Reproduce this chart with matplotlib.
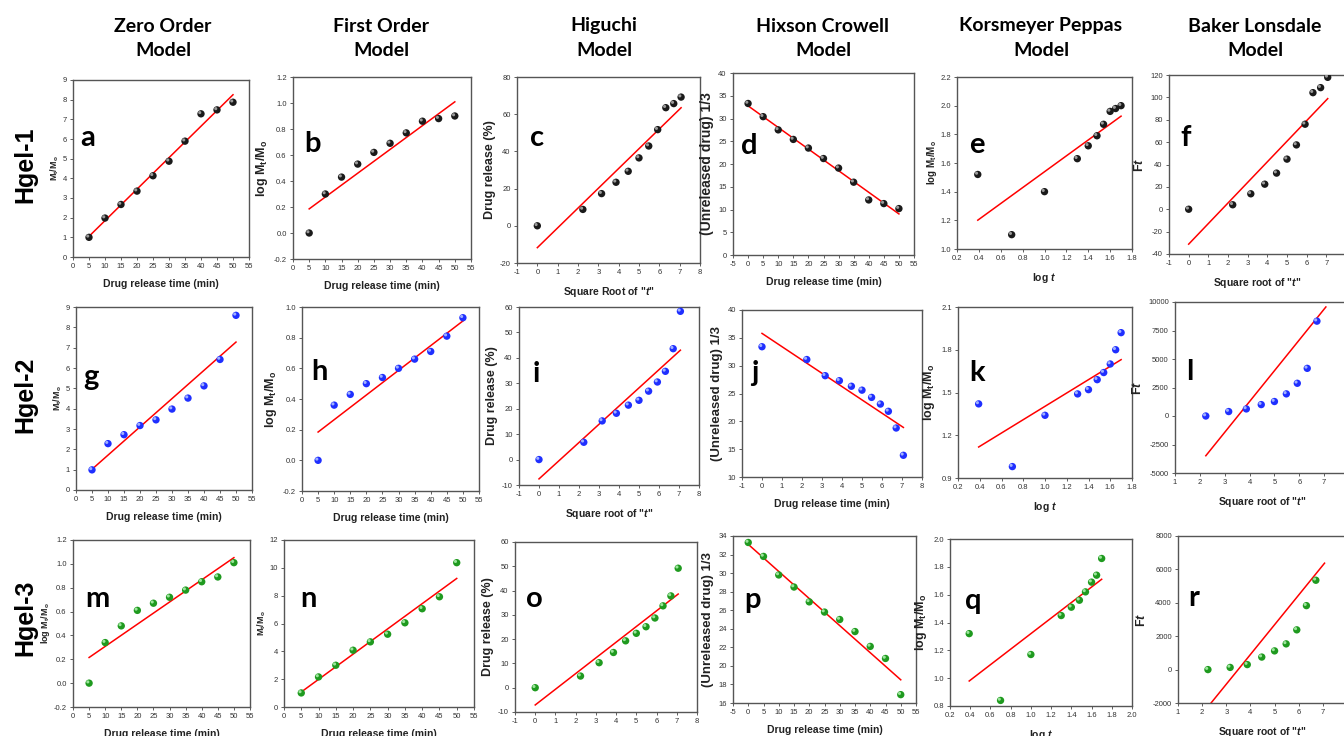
"""Release kinetics model fits for three hydrogels (Hgel-1..3)."""

import matplotlib.pyplot as plt
from matplotlib.ticker import FormatStrFormatter, MultipleLocator
from matplotlib.transforms import offset_copy

W, H = 1344, 736
LABEL_FONT = "Liberation Sans"

# ---- data ----------------------------------------------------------------
time_min = [5, 10, 15, 20, 25, 30, 35, 40, 45, 50]
time_min0 = [0, 5, 10, 15, 20, 25, 30, 35, 40, 45, 50]
sqrt_t = [0, 2.24, 3.16, 3.87, 4.47, 5.0, 5.48, 5.92, 6.32, 6.71, 7.07]
sqrt_t_bl = [2.24, 3.16, 3.87, 4.47, 5.0, 5.48, 5.92, 6.32, 6.71]
log_t = [0.39, 0.70, 1.00, 1.30, 1.40, 1.48, 1.54, 1.60, 1.65, 1.70]

# Hgel-1
zero_1 = [1.0, 1.98, 2.67, 3.35, 4.13, 4.87, 5.89, 7.28, 7.48, 7.87]
first_1 = [0.0, 0.30, 0.43, 0.53, 0.62, 0.69, 0.77, 0.86, 0.88, 0.90]
higuchi_1 = [0, 8.8, 17.3, 23.4, 29.3, 36.5, 42.9, 51.7, 63.5, 65.7, 69.2]
hixson_1 = [33.3, 30.4, 27.5, 25.4, 23.5, 21.2, 19.1, 16.0, 12.1, 11.3, 10.2]
korsmeyer_1 = [1.52, 1.10, 1.40, 1.63, 1.72, 1.79, 1.87, 1.96, 1.98, 2.0]
baker_1 = [0, 4.0, 13.8, 22.4, 32.3, 44.8, 57.5, 76.0, 104.2, 108.7, 117.9]
# Hgel-2
zero_2 = [0.99, 2.28, 2.72, 3.17, 3.45, 3.98, 4.52, 5.12, 6.42, 8.59]
first_2 = [0.0, 0.36, 0.43, 0.50, 0.54, 0.60, 0.66, 0.71, 0.81, 0.93]
higuchi_2 = [0, 6.8, 15.2, 18.2, 21.4, 23.3, 26.9, 30.5, 34.7, 43.6, 58.3]
hixson_2 = [33.4, 31.1, 28.2, 27.3, 26.3, 25.6, 24.3, 23.1, 21.8, 18.8, 13.9]
korsmeyer_2 = [1.42, 0.98, 1.34, 1.49, 1.52, 1.59, 1.64, 1.70, 1.80, 1.92]
baker_2 = [0, 390, 620, 1000, 1270, 1940, 2870, 4180, 8320]
# Hgel-3
first_3 = [0.0, 0.34, 0.48, 0.61, 0.67, 0.72, 0.78, 0.85, 0.89, 1.01]
zero_3 = [1.01, 2.16, 3.0, 4.08, 4.68, 5.23, 6.05, 7.06, 7.92, 10.37]
higuchi_3 = [0, 4.8, 10.3, 14.5, 19.3, 22.4, 25.1, 28.7, 33.7, 37.8, 49.2]
hixson_3 = [33.3, 31.8, 29.8, 28.5, 26.9, 25.8, 25.0, 23.7, 22.1, 20.8, 16.9]
korsmeyer_3 = [1.32, 0.84, 1.17, 1.45, 1.51, 1.56, 1.62, 1.69, 1.74, 1.86]
baker_3 = [0, 130, 300, 750, 1120, 1540, 2380, 3830, 5350]

# linear fits (slope, intercept, x range) in panel order a..r
fit_slope = [0.160, 0.0183, 10.64, -0.475, 0.554, 18.4,
             0.139, 0.0161, 7.16, -2.39, 0.468, 2702,
             0.0186, 0.1813, 6.46, -0.292, 0.558, 1781]
fit_intercept = [0.25, 0.094, -11.75, 32.78, 0.985, -31.2,
                 0.325, 0.104, -7.6, 35.8, 0.935, -9538,
                 0.122, 0.173, -7.1, 33.1, 0.762, -6218]
fit_x0 = [5, 5, 0, 0, 0.39, 0,
          5, 5, 0, 0, 0.39, 2.24,
          5, 5, 0, 0, 0.39, 2.24]
fit_x1 = [50, 50, 7.07, 50, 1.70, 7.07,
          50, 50, 7.07, 7.07, 1.70, 7.07,
          50, 50, 7.07, 50, 1.70, 7.07]

model_titles = ["Zero Order\nModel", "First Order\nModel", "Higuchi\nModel",
                "Hixson Crowell\nModel", "Korsmeyer Peppas\nModel",
                "Baker Lonsdale\nModel"]
title_x = [163, 381, 604, 823, 1041, 1255]
gel_labels = ["Hgel-1", "Hgel-2", "Hgel-3"]
gel_label_y = [165, 395, 618]
gel_colors = ["#1a1a1a", "#1f2fff", "#1f9a1f"]
gel_shine = ["#9a9a9a", "#9fb0ff", "#9be59b"]

# ---- panel layout ----------------------------------------------------------
MT = r"M$_\mathrm{t}$/M$_\mathrm{o}$"
LOG_MT = "log " + MT
DRT = "Drug release time (min)"
SQRT_UP = 'Square Root of "$t$"'
SQRT = 'Square root of "$t$"'
LOGT = "log $t$"
DR = "Drug release (%)"
UNREL = "(Unreleased drug) 1/3"
FT = "F$t$"

panels = [
    # x, y, (left, top, right, bottom) px, xlim, xstep, ylim, ystep, yfmt,
    # xlabel, ylabel, ylabel size, letter position
    (time_min, zero_1, (73, 80, 249, 257), (0, 55), 5, (0, 9), 1, "%d",
     DRT, MT, 6.5, (0.085, 0.67)),
    (time_min, first_1, (293, 77, 471, 259), (0, 55), 5, (-0.2, 1.2), 0.2, "%.1f",
     DRT, LOG_MT, 9, (0.107, 0.63)),
    (sqrt_t, higuchi_1, (517, 77, 700, 263), (-1, 8), 1, (-20, 80), 20, "%d",
     SQRT_UP, DR, 9, (0.11, 0.67)),
    (time_min0, hixson_1, (733, 73, 914, 255), (-5, 55), 5, (0, 40), 5, "%d",
     DRT, UNREL, 10, (0.088, 0.60)),
    (log_t, korsmeyer_1, (957, 77, 1132, 249), (0.2, 1.8), 0.2, (1.0, 2.2), 0.2, "%.1f",
     LOGT, LOG_MT, 7, (0.114, 0.605)),
    (sqrt_t, baker_1, (1169, 75, 1346, 254), (-1, 8), 1, (-40, 120), 20, "%d",
     SQRT, FT, 9, (0.096, 0.65)),
    (time_min, zero_2, (76, 307, 252, 490), (0, 55), 5, (0, 9), 1, "%d",
     DRT, MT, 6.5, (0.085, 0.617)),
    (time_min, first_2, (302, 307, 479, 491), (0, 55), 5, (-0.2, 1.0), 0.2, "%.1f",
     DRT, LOG_MT, 9, (0.10, 0.647)),
    (sqrt_t, higuchi_2, (519, 307, 699, 485), (-1, 8), 1, (-10, 60), 10, "%d",
     SQRT, DR, 9, (0.094, 0.624)),
    (sqrt_t, hixson_2, (742, 310, 922, 477), (-1, 8), 1, (10, 40), 5, "%d",
     DRT, UNREL, 9.5, (0.072, 0.62)),
    (log_t, korsmeyer_2, (958, 307, 1132, 478), (0.2, 1.8), 0.2, (0.9, 2.1), 0.3, "%.1f",
     LOGT, LOG_MT, 9, (0.11, 0.614)),
    (sqrt_t_bl, baker_2, (1175, 302, 1349, 473), (1, 8), 1, (-5000, 10000), 2500, "%d",
     SQRT, FT, 9, (0.086, 0.59)),
    (time_min, first_3, (73, 540, 250, 707), (0, 55), 5, (-0.2, 1.2), 0.2, "%.1f",
     DRT, LOG_MT, 6.5, (0.135, 0.647)),
    (time_min, zero_3, (284, 540, 474, 707), (0, 55), 5, (0, 12), 2, "%d",
     DRT, MT, 6.5, (0.126, 0.647)),
    (sqrt_t, higuchi_3, (515, 542, 697, 712), (-1, 8), 1, (-10, 60), 10, "%d",
     SQRT, DR, 9, (0.104, 0.665)),
    (time_min0, hixson_3, (733, 536, 916, 703), (-5, 55), 5, (16, 34), 2, "%d",
     DRT, UNREL, 9.5, (0.104, 0.617)),
    (log_t, korsmeyer_3, (950, 539, 1132, 706), (0.2, 2.0), 0.2, (0.8, 2.0), 0.2, "%.1f",
     LOGT, LOG_MT, 9, (0.13, 0.63)),
    (sqrt_t_bl, baker_3, (1178, 536, 1347, 703), (1, 8), 1, (-2000, 8000), 2000, "%d",
     SQRT, FT, 9, (0.09, 0.63)),
]

plt.rcParams["mathtext.fontset"] = "custom"
plt.rcParams["mathtext.rm"] = LABEL_FONT + ":bold"
plt.rcParams["mathtext.it"] = LABEL_FONT + ":italic:bold"

fig = plt.figure(figsize=(W / 100, H / 100), dpi=100)

for i, (x, y, box, xlim, xstep, ylim, ystep, yfmt,
        xlabel, ylabel, ysize, letter_xy) in enumerate(panels):
    left, top, right, bottom = box
    ax = fig.add_axes([left / W, 1 - bottom / H, (right - left) / W, (bottom - top) / H])
    row = i // 6

    x0, x1 = fit_x0[i], fit_x1[i]
    ax.plot([x0, x1],
            [fit_slope[i] * x0 + fit_intercept[i], fit_slope[i] * x1 + fit_intercept[i]],
            color="red", lw=1.1, zorder=2)
    # shaded "ball" markers: dark body plus a small shine spot
    ax.scatter(x, y, s=28, color=gel_colors[row], edgecolors="none", zorder=3)
    shine = offset_copy(ax.transData, fig=fig, x=-0.9, y=0.9, units="points")
    ax.scatter(x, y, s=5, color=gel_shine[row], edgecolors="none", zorder=4,
               transform=shine)

    ax.set_xlim(*xlim)
    ax.set_ylim(*ylim)
    ax.xaxis.set_major_locator(MultipleLocator(xstep))
    ax.yaxis.set_major_locator(MultipleLocator(ystep))
    ax.yaxis.set_major_formatter(FormatStrFormatter(yfmt))
    if xstep < 1:
        ax.xaxis.set_major_formatter(FormatStrFormatter("%.1f"))
    else:
        ax.xaxis.set_major_formatter(FormatStrFormatter("%d"))
    ax.tick_params(direction="out", length=2.5, width=0.6, labelsize=5.5,
                   labelcolor="#333333", color="#444444", pad=2)
    for lab in ax.get_xticklabels() + ax.get_yticklabels():
        lab.set_fontfamily(LABEL_FONT)
    for spine in ax.spines.values():
        spine.set_color("#555555")
        spine.set_linewidth(1.0)

    ax.set_xlabel(xlabel, fontsize=7.5, fontweight="bold", family=LABEL_FONT,
                  color="#222222", labelpad=6)
    ax.set_ylabel(ylabel, fontsize=ysize, fontweight="bold", family=LABEL_FONT,
                  color="#222222", labelpad=1 if ysize < 7.5 else 3)
    ax.text(letter_xy[0], letter_xy[1], "abcdefghijklmnopqr"[i], transform=ax.transAxes,
            fontsize=21, fontweight="bold", family="Lato", ha="center", va="center")

for title, tx in zip(model_titles, title_x):
    fig.text(tx / W, 1 - 38 / H, title, ha="center", va="center", fontsize=14,
             fontweight="bold", family="Lato", linespacing=1.5)

for label, ly in zip(gel_labels, gel_label_y):
    fig.text(25 / W, 1 - ly / H, label, ha="center", va="center", rotation=90,
             fontsize=18, fontweight="bold", family="Liberation Sans")

fig.savefig("out.png", dpi=100)
